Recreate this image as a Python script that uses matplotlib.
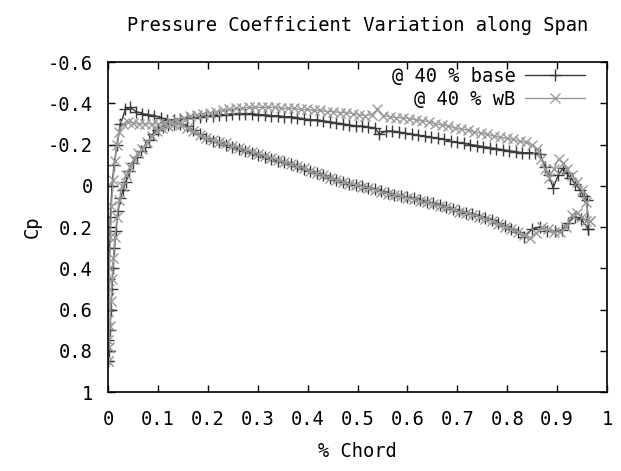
import matplotlib
matplotlib.use("Agg")
import matplotlib.pyplot as plt

plt.rcParams['font.family'] = ['DejaVu Sans Mono']
plt.rcParams['axes.unicode_minus'] = False

# ---- "@ 40 % base" : upper (suction) surface, LE -> TE
base_up_x = [0.0, 0.0, 0.001, 0.002, 0.003, 0.005, 0.008, 0.012, 0.018, 0.025, 0.035, 0.045,
             0.056, 0.068, 0.08, 0.093, 0.106, 0.119, 0.132, 0.145, 0.158, 0.171, 0.184,
             0.197, 0.21, 0.223, 0.236, 0.249, 0.262, 0.275, 0.288, 0.301, 0.314, 0.327,
             0.34, 0.353, 0.366, 0.379, 0.392, 0.405, 0.418, 0.431, 0.444, 0.457, 0.47,
             0.483, 0.496, 0.509, 0.522, 0.535, 0.544, 0.557, 0.57, 0.583, 0.596, 0.609,
             0.622, 0.635, 0.648, 0.661, 0.674, 0.687, 0.7, 0.713, 0.726, 0.739, 0.752,
             0.765, 0.778, 0.791, 0.804, 0.817, 0.83, 0.843, 0.855, 0.866, 0.876, 0.884,
             0.892, 0.902, 0.912, 0.919, 0.926, 0.936, 0.946, 0.953, 0.96, 0.962]
base_up_cp = [0.85, 0.75, 0.6, 0.45, 0.3, 0.15, 0.0, -0.1, -0.2, -0.3, -0.37, -0.38,
              -0.36, -0.35, -0.345, -0.34, -0.33, -0.32, -0.32, -0.325, -0.33, -0.33, -0.335,
              -0.34, -0.34, -0.345, -0.345, -0.35, -0.35, -0.35, -0.35, -0.345, -0.345, -0.34,
              -0.34, -0.335, -0.335, -0.33, -0.325, -0.32, -0.32, -0.315, -0.31, -0.305, -0.3,
              -0.295, -0.29, -0.29, -0.285, -0.28, -0.25, -0.265, -0.265, -0.26, -0.255, -0.25,
              -0.245, -0.24, -0.235, -0.23, -0.225, -0.215, -0.21, -0.205, -0.2, -0.195, -0.19,
              -0.185, -0.18, -0.175, -0.17, -0.165, -0.16, -0.16, -0.16, -0.155, -0.09, -0.05,
              0.01, -0.05, -0.086, -0.06, -0.04, -0.01, 0.02, 0.05, 0.07, 0.21]

# ---- "@ 40 % base" : lower surface, LE -> TE
base_lo_x = [0.0, 0.002, 0.004, 0.006, 0.008, 0.01, 0.013, 0.016, 0.02, 0.025, 0.03, 0.036,
             0.043, 0.05, 0.058, 0.066, 0.075, 0.082, 0.09, 0.1, 0.11, 0.12, 0.132, 0.145,
             0.158, 0.171, 0.184, 0.197, 0.21, 0.223, 0.236, 0.249, 0.262, 0.275, 0.288,
             0.301, 0.314, 0.327, 0.34, 0.353, 0.366, 0.379, 0.392, 0.405, 0.418, 0.431,
             0.444, 0.457, 0.47, 0.483, 0.496, 0.509, 0.522, 0.535, 0.548, 0.561, 0.574,
             0.587, 0.6, 0.613, 0.626, 0.639, 0.652, 0.665, 0.678, 0.691, 0.704, 0.717,
             0.73, 0.743, 0.756, 0.769, 0.782, 0.795, 0.808, 0.821, 0.834, 0.85, 0.865,
             0.88, 0.895, 0.91, 0.922, 0.935, 0.948, 0.962]
base_lo_cp = [0.85, 0.8, 0.7, 0.6, 0.5, 0.4, 0.3, 0.22, 0.12, 0.06, 0.02, -0.02,
              -0.07, -0.11, -0.14, -0.17, -0.19, -0.22, -0.25, -0.27, -0.285, -0.295, -0.3, -0.3,
              -0.29, -0.27, -0.25, -0.23, -0.215, -0.21, -0.2, -0.19, -0.18, -0.17, -0.16,
              -0.15, -0.14, -0.13, -0.12, -0.115, -0.105, -0.095, -0.08, -0.07, -0.06, -0.05,
              -0.04, -0.03, -0.02, -0.01, -0.003, 0.003, 0.01, 0.015, 0.025, 0.035, 0.045,
              0.05, 0.055, 0.06, 0.07, 0.08, 0.085, 0.095, 0.105, 0.115, 0.12, 0.13,
              0.135, 0.145, 0.155, 0.165, 0.18, 0.195, 0.21, 0.225, 0.25, 0.21, 0.2,
              0.22, 0.22, 0.215, 0.18, 0.15, 0.16, 0.21]

# ---- "@ 40 % wB" : upper surface, LE -> TE
wb_up_x = [0.0, 0.0, 0.001, 0.002, 0.003, 0.005, 0.007, 0.01, 0.014, 0.018, 0.023, 0.03,
           0.04, 0.05, 0.062, 0.075, 0.088, 0.1, 0.113, 0.126, 0.139, 0.152, 0.165, 0.178,
           0.191, 0.204, 0.217, 0.23, 0.243, 0.256, 0.269, 0.282, 0.295, 0.308, 0.321,
           0.334, 0.347, 0.36, 0.373, 0.386, 0.399, 0.412, 0.425, 0.438, 0.451, 0.464,
           0.477, 0.49, 0.503, 0.516, 0.529, 0.54, 0.552, 0.565, 0.578, 0.591, 0.604,
           0.617, 0.63, 0.643, 0.656, 0.669, 0.682, 0.695, 0.708, 0.721, 0.734, 0.747,
           0.76, 0.773, 0.786, 0.799, 0.812, 0.825, 0.838, 0.85, 0.86, 0.868, 0.876,
           0.884, 0.893, 0.903, 0.912, 0.92, 0.93, 0.94, 0.95, 0.958, 0.965]
wb_up_cp = [0.85, 0.75, 0.65, 0.5, 0.4, 0.25, 0.1, -0.03, -0.12, -0.2, -0.26, -0.3,
            -0.31, -0.305, -0.3, -0.3, -0.3, -0.3, -0.305, -0.31, -0.32, -0.33, -0.34, -0.345,
            -0.35, -0.355, -0.36, -0.365, -0.37, -0.375, -0.375, -0.38, -0.38, -0.38, -0.38,
            -0.38, -0.375, -0.375, -0.375, -0.37, -0.37, -0.365, -0.365, -0.36, -0.36, -0.355,
            -0.355, -0.35, -0.345, -0.34, -0.345, -0.37, -0.34, -0.335, -0.33, -0.33, -0.325,
            -0.32, -0.315, -0.31, -0.3, -0.295, -0.29, -0.28, -0.275, -0.27, -0.26, -0.255,
            -0.25, -0.24, -0.235, -0.23, -0.225, -0.215, -0.21, -0.2, -0.18, -0.13, -0.08,
            -0.04, -0.08, -0.13, -0.11, -0.08, -0.05, -0.02, 0.02, 0.08, 0.17]

# ---- "@ 40 % wB" : lower surface, LE -> TE
wb_lo_x = [0.0, 0.002, 0.004, 0.006, 0.008, 0.011, 0.014, 0.018, 0.023, 0.029, 0.036, 0.044,
           0.052, 0.06, 0.069, 0.078, 0.088, 0.098, 0.109, 0.12, 0.132, 0.145, 0.158, 0.171,
           0.184, 0.197, 0.21, 0.223, 0.236, 0.249, 0.262, 0.275, 0.288, 0.301, 0.314,
           0.327, 0.34, 0.353, 0.366, 0.379, 0.392, 0.405, 0.418, 0.431, 0.444, 0.457,
           0.47, 0.483, 0.496, 0.509, 0.522, 0.535, 0.548, 0.561, 0.574, 0.587, 0.6,
           0.613, 0.626, 0.639, 0.652, 0.665, 0.678, 0.691, 0.704, 0.717, 0.73, 0.743,
           0.756, 0.769, 0.782, 0.795, 0.808, 0.821, 0.834, 0.846, 0.858, 0.87, 0.882,
           0.894, 0.906, 0.918, 0.93, 0.94, 0.95, 0.958, 0.965]
wb_lo_cp = [0.85, 0.78, 0.68, 0.56, 0.45, 0.35, 0.25, 0.15, 0.07, 0.0, -0.05, -0.09,
            -0.13, -0.16, -0.18, -0.21, -0.24, -0.265, -0.28, -0.29, -0.3, -0.295, -0.28, -0.265,
            -0.245, -0.23, -0.22, -0.21, -0.205, -0.195, -0.185, -0.175, -0.165, -0.155, -0.145,
            -0.135, -0.125, -0.115, -0.105, -0.095, -0.085, -0.07, -0.06, -0.05, -0.04, -0.03,
            -0.02, -0.01, -0.005, 0.005, 0.01, 0.02, 0.03, 0.04, 0.045, 0.05, 0.06,
            0.065, 0.075, 0.08, 0.09, 0.1, 0.105, 0.115, 0.125, 0.13, 0.14, 0.15,
            0.16, 0.17, 0.185, 0.2, 0.21, 0.225, 0.24, 0.255, 0.23, 0.2, 0.21,
            0.225, 0.225, 0.2, 0.14, 0.13, 0.15, 0.17, 0.17]

x_ticks = [0, 0.1, 0.2, 0.3, 0.4, 0.5, 0.6, 0.7, 0.8, 0.9, 1]
x_tick_labels = ["0", "0.1", "0.2", "0.3", "0.4", "0.5", "0.6", "0.7", "0.8", "0.9", "1"]
y_ticks = [-0.6, -0.4, -0.2, 0, 0.2, 0.4, 0.6, 0.8, 1]
y_tick_labels = ["-0.6", "-0.4", "-0.2", "0", "0.2", "0.4", "0.6", "0.8", "1"]

# closed loops: TE -> upper -> LE -> lower -> TE
base_x = base_up_x[::-1] + base_lo_x
base_cp = base_up_cp[::-1] + base_lo_cp
wb_x = wb_up_x[::-1] + wb_lo_x
wb_cp = wb_up_cp[::-1] + wb_lo_cp

FS = 13.5

fig = plt.figure(figsize=(6.21, 4.71), dpi=100)
ax = fig.add_axes([108/621, 1-392/471, (607-108)/621, (392-62)/471])

ax.plot(base_x, base_cp, color='#3a3a3a', lw=1.0, marker='+', ms=9, mew=1.0,
        label='@ 40 % base')
ax.plot(wb_x, wb_cp, color='#9a9a9a', lw=1.0, marker='x', ms=7.5, mew=1.0,
        label='@ 40 % wB')

ax.set_xlim(0, 1)
ax.set_ylim(1, -0.6)
ax.set_xticks(x_ticks)
ax.set_xticklabels(x_tick_labels)
ax.set_yticks(y_ticks)
ax.set_yticklabels(y_tick_labels)
ax.tick_params(direction='in', length=5, width=1, top=True, right=True,
               labelsize=FS)
ax.tick_params(axis='x', pad=13)
ax.tick_params(axis='y', pad=11)
for s in ax.spines.values():
    s.set_linewidth(1.2)

ax.set_xlabel('% Chord', fontsize=FS, labelpad=9)
ax.set_ylabel('Cp', fontsize=FS, labelpad=4)
ax.set_title('Pressure Coefficient Variation along Span', fontsize=FS, pad=22)

leg = ax.legend(loc='upper right', bbox_to_anchor=(1 - 20/499, 1 - 3/330), frameon=False,
                markerfirst=False, fontsize=FS, handlelength=3.2, borderaxespad=0.0,
                borderpad=0.1, labelspacing=0.2, handletextpad=0.5)
for t in leg.get_texts():
    t.set_ha('right')

fig.savefig('out.png', dpi=100)
